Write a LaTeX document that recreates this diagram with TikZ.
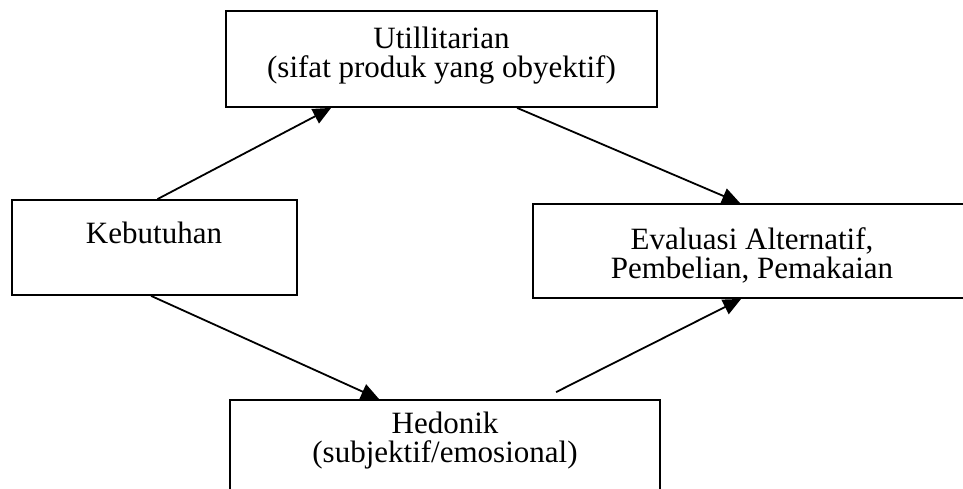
\documentclass[tikz,border=0pt]{standalone}
\usepackage{fontspec}
\setmainfont{Liberation Serif}
\usetikzlibrary{arrows.meta}
\tikzset{
  boxnode/.style={draw=black, line width=1.8pt, rectangle, inner sep=0pt, fill=white},
  txtnode/.style={align=center, inner sep=0pt, font=\fontsize{31}{29}\selectfont},
  conn/.style={line width=1.8pt, -{Triangle[length=18pt,width=16pt]}}
}
\begin{document}
\begin{tikzpicture}[x=1pt,y=-1pt]
\clip (0,0) rectangle (963,489);
\fill[white] (0,0) rectangle (963,489);
% boxes
\node[boxnode, minimum width=431pt, minimum height=96pt] (util) at (441.5,59) {};
\node[boxnode, minimum width=285pt, minimum height=95pt] (keb) at (154.5,247.5) {};
\node[boxnode, minimum width=438pt, minimum height=94pt] (eval) at (752,251) {};
\node[boxnode, minimum width=430pt, minimum height=96pt] (hed) at (445,448) {};
% texts
\node[txtnode] (utilt) at (441.5,56) {Utillitarian\\(sifat produk yang obyektif)};
\node[txtnode] (kebt) at (154,233) {Kebutuhan};
\node[txtnode] (evalt) at (752,255) {Evaluasi Alternatif,\\Pembelian, Pemakaian};
\node[txtnode] (hedt) at (445,441) {Hedonik\\(subjektif/emosional)};
% connectors
\draw[conn] ([xshift=3pt]keb.north) -- ([xshift=106pt]util.south west);
\draw[conn] ([xshift=292pt]util.south west) -- ([xshift=208pt]eval.north west);
\draw[conn] ([xshift=140pt]keb.south west) -- ([xshift=150pt]hed.north west);
\draw[conn] ([xshift=327pt,yshift=7pt]hed.north west) -- ([xshift=209pt]eval.south west);
\end{tikzpicture}
\end{document}
